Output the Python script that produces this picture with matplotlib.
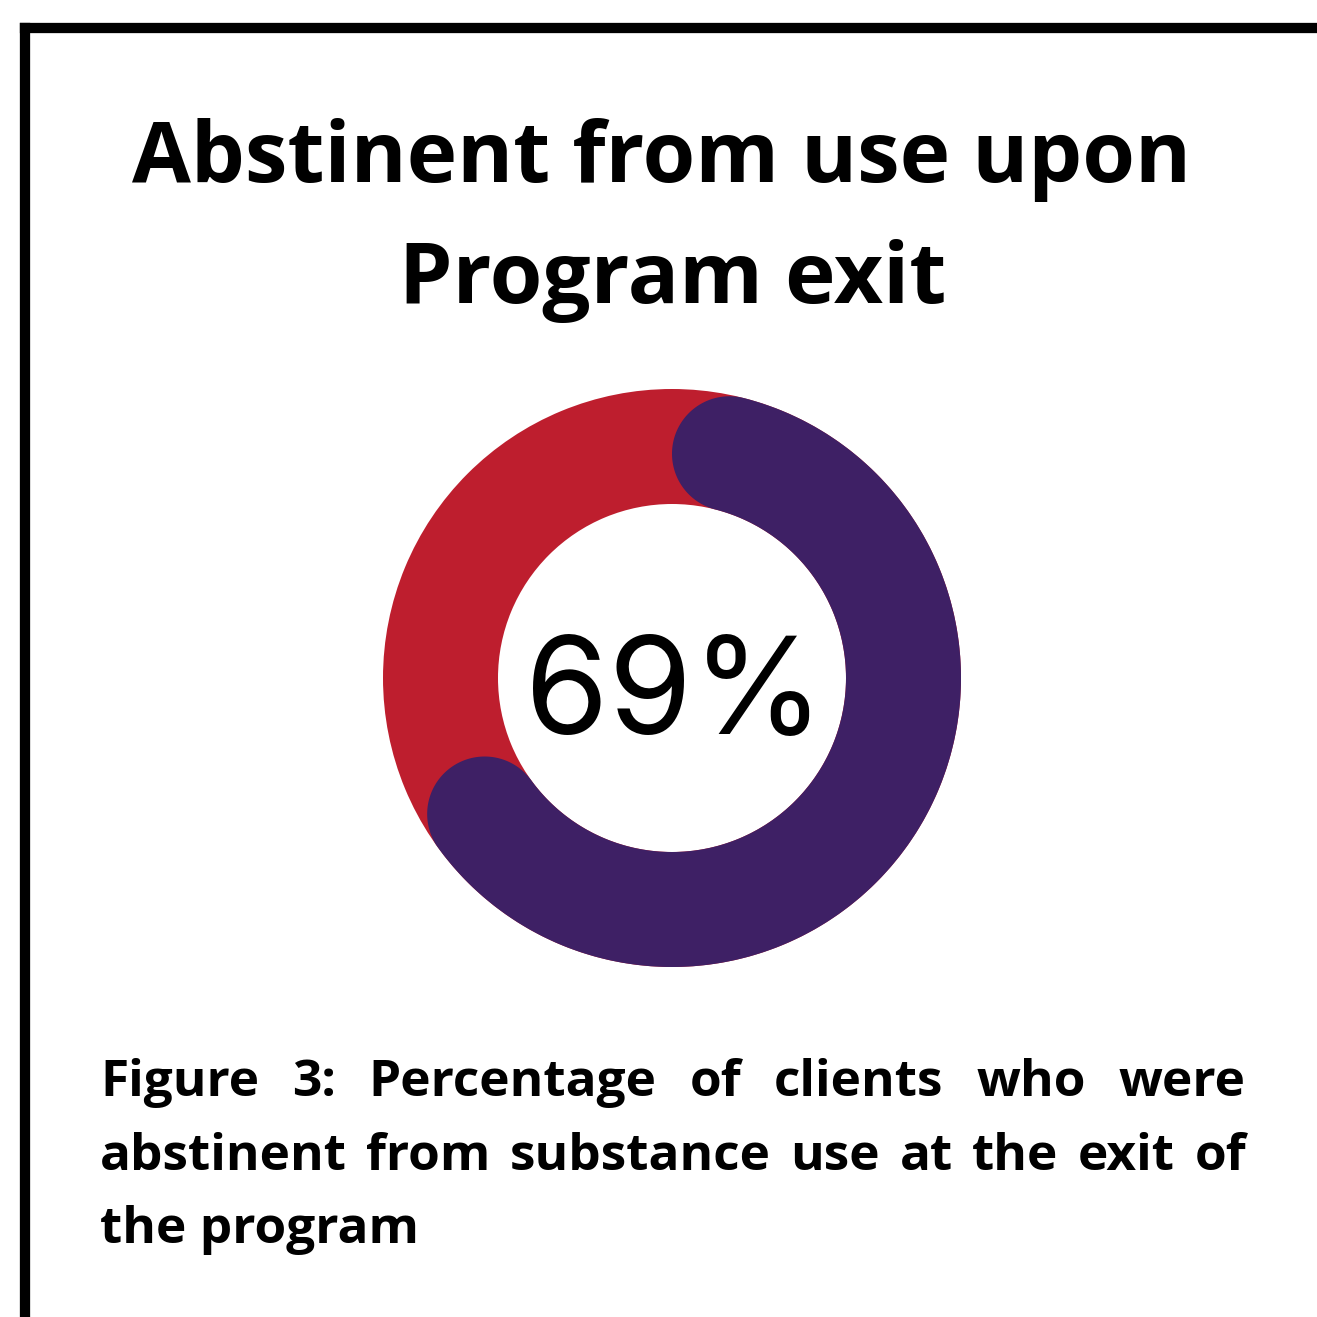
import numpy as np
import matplotlib
matplotlib.use("Agg")
import matplotlib.pyplot as plt
from matplotlib.patches import Wedge, Polygon

# data
value = 69
value_label = "69%"
title_lines = ["Abstinent from use upon", "Program exit"]
caption_lines = ["Figure 3: Percentage of clients who were",
                 "abstinent from substance use at the exit of",
                 "the program"]

RED = "#BE1E2E"
PURPLE = "#3E2065"
W = 1317

fig = plt.figure(figsize=(13.17, 13.17), dpi=100)
bg = fig.add_axes([0, 0, 1, 1])
bg.set_xlim(0, W)
bg.set_ylim(W, 0)
bg.axis("off")

# frame (top and left only)
bg.plot([25, W + 10], [28, 28], color="black", lw=7.4, solid_capstyle="projecting")
bg.plot([25, 25], [28, W + 10], color="black", lw=7.4, solid_capstyle="projecting")

# title
bg.text(662, 182, title_lines[0], ha="center", va="baseline", fontsize=61.5,
        fontfamily="Open Sans", fontweight="bold")
bg.text(673, 303, title_lines[1], ha="center", va="baseline", fontsize=61.5,
        fontfamily="Open Sans", fontweight="bold")

# caption, justified between x0 and x1
x0, x1 = 100, 1246
baselines = [1096, 1170, 1243]
cap_kw = dict(fontsize=37, fontfamily="Open Sans", fontweight="bold", va="baseline", ha="left")
fig.canvas.draw()
rend = fig.canvas.get_renderer()
inv = bg.transData.inverted()
for i, line in enumerate(caption_lines):
    words = line.split()
    if i == len(caption_lines) - 1:
        bg.text(x0, baselines[i], line, **cap_kw)
        continue
    texts = [bg.text(0, baselines[i], w, **cap_kw) for w in words]
    widths = []
    for t in texts:
        bb = t.get_window_extent(renderer=rend)
        a = inv.transform((bb.x0, 0))[0]
        b = inv.transform((bb.x1, 0))[0]
        widths.append(b - a)
    gap = (x1 - x0 - sum(widths)) / (len(words) - 1)
    x = x0
    for t, w in zip(texts, widths):
        t.set_x(x)
        x += w + gap

# donut
cx, cy, R = 672, 678, 300
dax = fig.add_axes([(cx - R) / W, (W - cy - R) / W, 2 * R / W, 2 * R / W])
dax.set_xlim(-R, R)
dax.set_ylim(-R, R)
dax.set_aspect("equal")
dax.axis("off")

r_out, ring = 289, 115
r_in = r_out - ring
r_mid = (r_out + r_in) / 2
half = ring / 2

dax.add_patch(Wedge((0, 0), r_out, 0, 360, width=ring, color=RED, lw=0))

sweep = value / 100 * 360
cap = np.degrees(np.arcsin(half / r_mid))
a_start = 90 - cap          # centre of leading cap
a_end = 90 - sweep + cap    # centre of trailing cap

t = np.radians(np.linspace(a_start, a_end, 300))
outer = np.c_[r_out * np.cos(t), r_out * np.sin(t)]
inner = np.c_[r_in * np.cos(t[::-1]), r_in * np.sin(t[::-1])]
ta = np.radians(a_end)
ce = np.array([r_mid * np.cos(ta), r_mid * np.sin(ta)])
phi = np.linspace(ta, ta - np.pi, 100)
cap_end = np.c_[ce[0] + half * np.cos(phi), ce[1] + half * np.sin(phi)]
ts = np.radians(a_start)
cs = np.array([r_mid * np.cos(ts), r_mid * np.sin(ts)])
phi = np.linspace(ts + np.pi, ts, 100)
cap_start = np.c_[cs[0] + half * np.cos(phi), cs[1] + half * np.sin(phi)]
pts = np.vstack([outer, cap_end, inner, cap_start])
dax.add_patch(Polygon(pts, closed=True, color=PURPLE, lw=0))

dax.text(3, -21, value_label, ha="center", va="center", fontsize=97,
         fontfamily="Inter", color="black")

fig.savefig("out.png", dpi=100, facecolor="white")
